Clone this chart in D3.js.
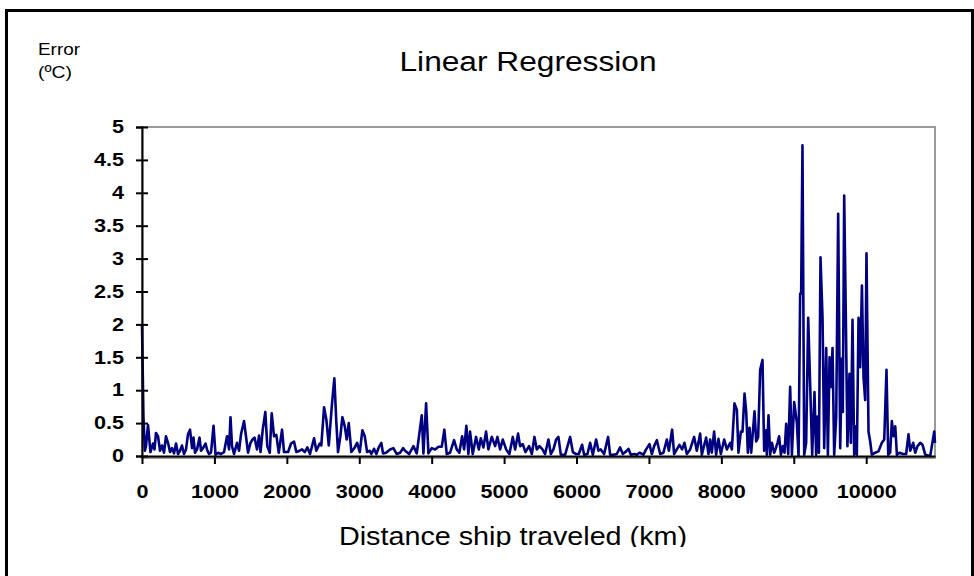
<!DOCTYPE html>
<html>
<head>
<meta charset="UTF-8">
<script src="https://d3js.org/d3.v7.min.js"></script>
<style>
  body { margin: 0; background: #fff; }
  svg { display: block; font-family: "Liberation Sans", Arial, sans-serif; }
</style>
</head>
<body>
<svg width="974" height="576"></svg>
<script>

// distance along the ship track (km) and regression error (ºC)
var distanceKm = [
  0, 20, 40, 55, 83, 117, 152, 173, 193, 221, 249, 276, 304, 331, 359, 387, 414, 442, 470, 497,
  525, 552, 580, 608, 635, 663, 691, 711, 732, 760, 794, 815, 843, 877, 898, 925, 953, 988, 1015, 1050,
  1091, 1133, 1174, 1202, 1222, 1243, 1271, 1312, 1340, 1367, 1409, 1436, 1464, 1498, 1526, 1554, 1588, 1616, 1637, 1667,
  1703, 1730, 1764, 1791, 1823, 1855, 1888, 1934, 1961, 2017, 2058, 2099, 2131, 2178, 2210, 2247, 2283, 2320, 2376, 2407,
  2454, 2476, 2514, 2546, 2579, 2624, 2656, 2684, 2707, 2739, 2767, 2800, 2827, 2855, 2891, 2938, 2970, 3007, 3043, 3076,
  3108, 3145, 3167, 3204, 3236, 3269, 3305, 3328, 3370, 3425, 3471, 3518, 3564, 3605, 3633, 3688, 3748, 3794, 3863, 3886,
  3923, 3955, 4001, 4047, 4093, 4139, 4175, 4208, 4254, 4309, 4346, 4382, 4420, 4448, 4479, 4507, 4530, 4567, 4613, 4651,
  4678, 4714, 4751, 4783, 4830, 4876, 4908, 4945, 4982, 5028, 5073, 5120, 5152, 5193, 5221, 5258, 5295, 5345, 5383, 5419,
  5452, 5488, 5530, 5566, 5612, 5645, 5681, 5718, 5750, 5783, 5843, 5912, 5949, 5994, 6031, 6077, 6105, 6151, 6188, 6225,
  6271, 6303, 6335, 6381, 6436, 6464, 6510, 6556, 6602, 6639, 6685, 6717, 6750, 6796, 6833, 6869, 6924, 6961, 7007, 7040,
  7072, 7109, 7155, 7200, 7247, 7275, 7320, 7348, 7385, 7421, 7458, 7490, 7523, 7569, 7624, 7661, 7707, 7730, 7790, 7822,
  7845, 7868, 7900, 7928, 7960, 7993, 8039, 8076, 8122, 8145, 8181, 8214, 8236, 8269, 8292, 8320, 8343, 8366, 8389, 8412,
  8458, 8481, 8508, 8536, 8568, 8591, 8615, 8628, 8651, 8674, 8698, 8729, 8753, 8775, 8798, 8822, 8849, 8872, 8895, 8923,
  8950, 8974, 9006, 9043, 9066, 9088, 9102, 9120, 9144, 9171, 9199, 9227, 9254, 9286, 9309, 9328, 9347, 9369, 9397, 9420,
  9448, 9471, 9494, 9513, 9535, 9558, 9586, 9613, 9641, 9664, 9677, 9696, 9719, 9741, 9769, 9788, 9811, 9834, 9857, 9871,
  9894, 9917, 9941, 9963, 9986, 10004, 10032, 10055, 10078, 10124, 10170, 10216, 10249, 10280, 10304, 10331, 10354, 10377, 10401, 10424,
  10460, 10507, 10552, 10584, 10608, 10649, 10677, 10709, 10746, 10778, 10815, 10884, 10939, 10950
];

var errorC = [
  2.00, 0.60, 0.08, 0.15, 0.47, 0.06, 0.19, 0.10, 0.35, 0.30, 0.08, 0.16, 0.05, 0.30, 0.20, 0.06, 0.12, 0.04, 0.19, 0.03,
  0.08, 0.16, 0.03, 0.10, 0.33, 0.40, 0.12, 0.28, 0.05, 0.10, 0.28, 0.08, 0.12, 0.19, 0.10, 0.03, 0.05, 0.46, 0.02, 0.05,
  0.03, 0.06, 0.30, 0.10, 0.59, 0.15, 0.03, 0.20, 0.08, 0.33, 0.53, 0.30, 0.05, 0.20, 0.25, 0.28, 0.10, 0.31, 0.06, 0.40,
  0.67, 0.15, 0.05, 0.65, 0.30, 0.32, 0.05, 0.40, 0.06, 0.06, 0.19, 0.22, 0.06, 0.08, 0.10, 0.06, 0.13, 0.03, 0.27, 0.08,
  0.19, 0.16, 0.74, 0.55, 0.16, 0.80, 1.18, 0.50, 0.06, 0.30, 0.59, 0.45, 0.25, 0.50, 0.06, 0.13, 0.20, 0.06, 0.39, 0.30,
  0.06, 0.08, 0.03, 0.11, 0.03, 0.13, 0.20, 0.04, 0.05, 0.10, 0.12, 0.03, 0.05, 0.12, 0.08, 0.03, 0.15, 0.04, 0.62, 0.04,
  0.80, 0.04, 0.12, 0.10, 0.14, 0.14, 0.40, 0.03, 0.05, 0.24, 0.10, 0.05, 0.30, 0.10, 0.46, 0.03, 0.37, 0.03, 0.29, 0.10,
  0.27, 0.13, 0.37, 0.10, 0.29, 0.15, 0.29, 0.10, 0.25, 0.10, 0.03, 0.29, 0.10, 0.34, 0.15, 0.18, 0.06, 0.15, 0.03, 0.29,
  0.10, 0.15, 0.10, 0.03, 0.25, 0.03, 0.10, 0.25, 0.29, 0.02, 0.02, 0.29, 0.06, 0.03, 0.03, 0.17, 0.02, 0.03, 0.20, 0.02,
  0.25, 0.08, 0.10, 0.03, 0.29, 0.02, 0.02, 0.03, 0.13, 0.03, 0.07, 0.11, 0.02, 0.03, 0.02, 0.05, 0.02, 0.10, 0.18, 0.03,
  0.15, 0.24, 0.03, 0.05, 0.25, 0.08, 0.40, 0.03, 0.10, 0.17, 0.10, 0.20, 0.03, 0.10, 0.29, 0.08, 0.34, 0.02, 0.28, 0.03,
  0.25, 0.05, 0.37, 0.02, 0.26, 0.03, 0.25, 0.10, 0.20, 0.10, 0.80, 0.70, 0.05, 0.37, 0.37, 0.95, 0.67, 0.05, 0.43, 0.05,
  0.68, 0.22, 0.29, 1.31, 1.46, 0.08, 0.39, 0.02, 0.62, 0.02, 0.20, 0.05, 0.12, 0.20, 0.30, 0.02, 0.15, 0.05, 0.49, 0.03,
  1.05, 0.02, 0.82, 0.50, 0.00, 2.47, 2.47, 4.72, 0.02, 0.20, 2.10, 1.05, 0.02, 0.97, 0.02, 0.60, 0.05, 3.02, 2.10, 0.12,
  1.64, 0.02, 1.50, 1.05, 1.64, 0.02, 0.60, 3.68, 0.12, 1.48, 0.67, 3.96, 2.10, 0.15, 1.25, 0.20, 2.07, 0.02, 0.45, 0.02,
  2.10, 1.35, 2.59, 1.20, 0.85, 3.08, 0.37, 0.22, 0.02, 0.05, 0.07, 0.20, 0.25, 1.31, 0.02, 0.05, 0.53, 0.30, 0.45, 0.02,
  0.05, 0.03, 0.03, 0.33, 0.08, 0.20, 0.05, 0.15, 0.20, 0.17, 0.02, 0.00, 0.37, 0.20
];

var xTicks = [0, 1000, 2000, 3000, 4000, 5000, 6000, 7000, 8000, 9000, 10000];
var xTickLabels = ["0", "1000", "2000", "3000", "4000", "5000", "6000", "7000", "8000", "9000", "10000"];
var yTicks = [0, 0.5, 1, 1.5, 2, 2.5, 3, 3.5, 4, 4.5, 5];
var yTickLabels = ["0", "0.5", "1", "1.5", "2", "2.5", "3", "3.5", "4", "4.5", "5"];

var svg = d3.select("svg"),
    plot = {left: 142, right: 935, top: 127, bottom: 456},
    stretch = 1.2;

var x = d3.scaleLinear().domain([0, 10950]).range([plot.left, plot.right]);
var y = d3.scaleLinear().domain([0, 5]).range([plot.bottom, plot.top]);

// outer frame
svg.append("rect")
    .attr("x", 6.5).attr("y", 10.5)
    .attr("width", 966).attr("height", 620)
    .attr("fill", "none").attr("stroke", "#000").attr("stroke-width", 3);

// plot area box
svg.append("rect")
    .attr("x", plot.left).attr("y", plot.top)
    .attr("width", plot.right - plot.left).attr("height", plot.bottom - plot.top + 2)
    .attr("fill", "none").attr("stroke", "#9a9a9a").attr("stroke-width", 2);

var data = d3.zip(distanceKm, errorC);

svg.append("path")
    .datum(data)
    .attr("fill", "none")
    .attr("stroke", "#000080")
    .attr("stroke-width", 2.6)
    .attr("stroke-linejoin", "round")
    .attr("d", d3.line().x(function(d) { return x(d[0]); }).y(function(d) { return y(d[1]); }));

// y axis
var yAxis = svg.append("g")
    .attr("transform", "translate(" + plot.left + ",0)")
    .call(d3.axisLeft(y).tickValues(yTicks).tickSize(6)
      .tickFormat(function(d, i) { return yTickLabels[i]; }));
yAxis.select(".domain").attr("stroke", "#000").attr("stroke-width", 2);
yAxis.selectAll(".tick line").attr("x1", -6).attr("x2", 6).attr("stroke-width", 2);
yAxis.selectAll(".tick text")
    .attr("x", -18 / stretch)
    .attr("transform", "scale(" + stretch + ",1)")
    .attr("font-size", 18).attr("font-weight", "bold")
    .attr("font-family", "'Liberation Sans', Arial, sans-serif")
    .attr("fill", "#000");

// x axis
var xAxis = svg.append("g")
    .attr("transform", "translate(0," + plot.bottom + ")")
    .call(d3.axisBottom(x).tickValues(xTicks).tickSize(8).tickSizeOuter(0)
      .tickFormat(function(d, i) { return xTickLabels[i]; }));
xAxis.select(".domain").attr("stroke", "#000").attr("stroke-width", 2);
xAxis.selectAll(".tick line").attr("stroke-width", 2);
xAxis.selectAll(".tick text")
    .attr("y", 42).attr("dy", null)
    .attr("transform", "scale(" + stretch + ",1)")
    .attr("font-size", 18).attr("font-weight", "bold")
    .attr("font-family", "'Liberation Sans', Arial, sans-serif")
    .attr("fill", "#000");

// titles
svg.append("text")
    .attr("x", 528).attr("y", 71)
    .attr("text-anchor", "middle")
    .attr("font-size", 27)
    .attr("textLength", 257).attr("lengthAdjust", "spacingAndGlyphs")
    .text("Linear Regression");

svg.append("text")
    .attr("x", 38).attr("y", 55)
    .attr("font-size", 17)
    .attr("textLength", 42).attr("lengthAdjust", "spacingAndGlyphs")
    .text("Error");

svg.append("text")
    .attr("x", 38).attr("y", 78)
    .attr("font-size", 17)
    .attr("textLength", 34).attr("lengthAdjust", "spacingAndGlyphs")
    .text("(ºC)");

svg.append("clipPath").attr("id", "cut")
  .append("rect").attr("x", 0).attr("y", 0).attr("width", 974).attr("height", 547);

svg.append("text")
    .attr("clip-path", "url(#cut)")
    .attr("x", 513).attr("y", 544.5)
    .attr("text-anchor", "middle")
    .attr("font-size", 25)
    .attr("textLength", 348).attr("lengthAdjust", "spacingAndGlyphs")
    .text("Distance ship traveled (km)");

</script>
</body>
</html>
